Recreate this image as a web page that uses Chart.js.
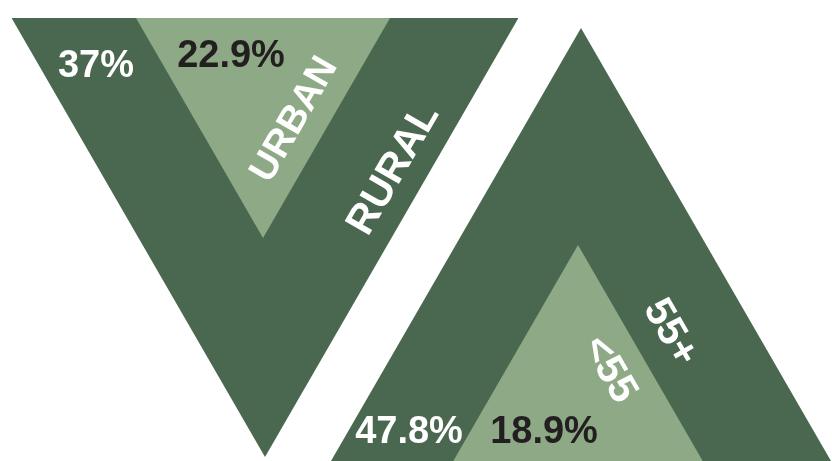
<!DOCTYPE html>
<html>
<head>
<meta charset="utf-8">
<script src="https://cdn.jsdelivr.net/npm/chart.js@4/dist/chart.umd.min.js"></script>
<style>
  html, body { margin: 0; padding: 0; background: #ffffff; }
  #wrap { width: 832px; height: 461px; position: relative; }
</style>
</head>
<body>
<div id="wrap"><canvas id="chart"></canvas></div>
<script>
// Data
const categories = ['RURAL', 'URBAN', '55+', '<55'];
const values = [37, 22.9, 47.8, 18.9];
const valueLabels = ['37%', '22.9%', '47.8%', '18.9%'];

// Layout (page units: 1 unit = 1px)
const DARK = '#4a6850';
const LIGHT = '#8ea985';
const INK = '#231f20';
const TAN30 = Math.tan(Math.PI / 6);

// each triangle: centre x, flat side y, tip y
const shapes = [
    { cx: 265, base: 18, tip: 457, color: DARK },
    { cx: 263, base: 18, tip: 238, color: LIGHT },
    { cx: 581, base: 461, tip: 28, color: DARK },
    { cx: 578, base: 461, tip: 245, color: LIGHT }
];
const nameSpots = [
    { x: 391, y: 168, rot: -60, size: 41 },
    { x: 292, y: 118, rot: -60, size: 38 },
    { x: 673, y: 331, rot: 60, size: 41 },
    { x: 612, y: 368, rot: 60, size: 41 }
];
const valueSpots = [
    { x: 96, y: 77, color: '#ffffff' },
    { x: 231, y: 67, color: INK },
    { x: 409, y: 443, color: '#ffffff' },
    { x: 544, y: 443, color: INK }
];

function trianglePoints(s) {
    const half = Math.abs(s.tip - s.base) * TAN30;
    return [
        { x: s.cx - half, y: s.base },
        { x: s.cx, y: s.tip },
        { x: s.cx + half, y: s.base }
    ];
}

const datasets = categories.map((name, i) => ({
    label: name + ' ' + values[i] + '%',
    data: trianglePoints(shapes[i]),
    showLine: true,
    borderWidth: 0,
    borderColor: shapes[i].color,
    backgroundColor: shapes[i].color,
    pointRadius: 0,
    tension: 0,
    fill: { value: shapes[i].base },
    order: i % 2 === 0 ? 1 : 0,
    clip: false
}));

const labelPlugin = {
    id: 'labels',
    afterDatasetsDraw(chart) {
        const ctx = chart.ctx;
        const xs = chart.scales.x, ys = chart.scales.y;
        ctx.save();
        // category names along the triangle sides
        categories.forEach((name, i) => {
            const p = nameSpots[i];
            ctx.save();
            ctx.translate(xs.getPixelForValue(p.x), ys.getPixelForValue(p.y));
            ctx.rotate(p.rot * Math.PI / 180);
            ctx.font = 'bold ' + p.size + 'px "Liberation Sans", Arial, sans-serif';
            ctx.fillStyle = '#ffffff';
            ctx.textAlign = 'center';
            ctx.textBaseline = 'alphabetic';
            ctx.fillText(name, 0, p.size * 0.358);
            ctx.restore();
        });
        // percentages
        valueLabels.forEach((txt, i) => {
            const p = valueSpots[i];
            ctx.font = 'bold 38px "Liberation Sans", Arial, sans-serif';
            ctx.fillStyle = p.color;
            ctx.textAlign = 'center';
            ctx.textBaseline = 'alphabetic';
            ctx.fillText(txt, xs.getPixelForValue(p.x), ys.getPixelForValue(p.y));
        });
        ctx.restore();
    }
};

new Chart(document.getElementById('chart'), {
    type: 'scatter',
    data: { datasets: datasets },
    options: {
        responsive: true,
        maintainAspectRatio: false,
        animation: false,
        layout: { padding: 0 },
        scales: {
            x: { type: 'linear', min: 0, max: 832, display: false },
            y: { type: 'linear', min: 0, max: 461, reverse: true, display: false }
        },
        plugins: {
            legend: { display: false },
            tooltip: { enabled: false }
        }
    },
    plugins: [labelPlugin]
});
</script>
</body>
</html>
